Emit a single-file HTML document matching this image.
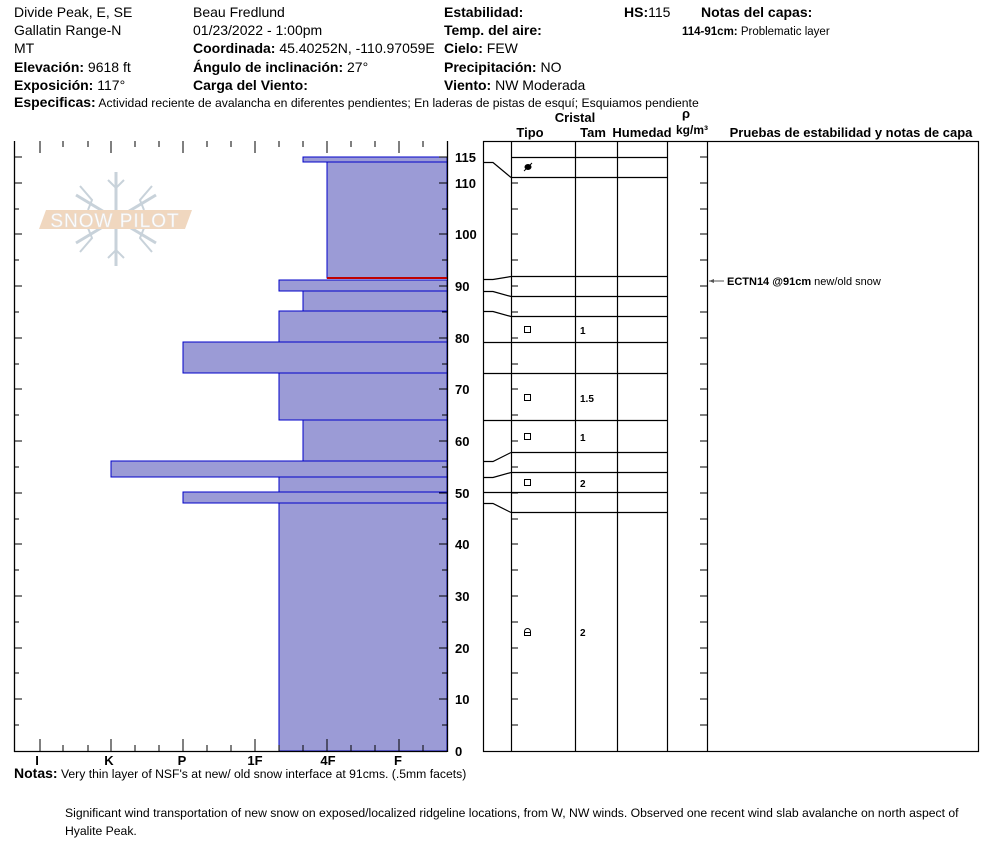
<!DOCTYPE html>
<html><head><meta charset="utf-8"><style>
body{margin:0;background:#fff;}
svg{display:block;font-family:"Liberation Sans",Arial,sans-serif;}
.b{font-weight:bold}
</style></head><body>
<svg width="994" height="859" viewBox="0 0 994 859" xmlns="http://www.w3.org/2000/svg">
<g font-size="14" fill="#000">
<text x="14" y="17">Divide Peak, E, SE</text>
<text x="14" y="35">Gallatin Range-N</text>
<text x="14" y="53">MT</text>
<text x="14" y="72"><tspan class="b">Elevación:</tspan> 9618 ft</text>
<text x="14" y="90"><tspan class="b">Exposición:</tspan> 117°</text>
<text x="193" y="17">Beau  Fredlund</text>
<text x="193" y="35">01/23/2022 - 1:00pm</text>
<text x="193" y="53"><tspan class="b">Coordinada:</tspan> 45.40252N, -110.97059E</text>
<text x="193" y="72"><tspan class="b">Ángulo de inclinación:</tspan> 27°</text>
<text x="193" y="90" class="b">Carga del Viento:</text>
<text x="444" y="17" class="b">Estabilidad:</text>
<text x="444" y="35" class="b">Temp. del aire:</text>
<text x="444" y="53"><tspan class="b">Cielo:</tspan> FEW</text>
<text x="444" y="72"><tspan class="b">Precipitación:</tspan> NO</text>
<text x="444" y="90"><tspan class="b">Viento:</tspan>  NW Moderada</text>
<text x="624" y="17"><tspan class="b">HS:</tspan>115</text>
<text x="701" y="17" class="b">Notas del capas:</text>
<text x="682" y="35" font-size="11.5"><tspan class="b">114-91cm:</tspan> Problematic layer</text>
<text x="14" y="107"><tspan class="b">Especificas:</tspan><tspan font-size="12.2"> Actividad reciente de avalancha en diferentes pendientes;  En laderas de pistas de esquí; Esquiamos pendiente</tspan></text>
</g>
<!-- logo -->
<g stroke="#c3ced6" stroke-width="3" fill="none" opacity="0.9">
<line x1="116" y1="172" x2="116" y2="266"/>
<line x1="76" y1="195" x2="156" y2="243"/>
<line x1="76" y1="243" x2="156" y2="195"/>
<path d="M108 180l8 8 8-8M108 258l8-8 8 8M80 186l12 14-4 10M152 186l-12 14 4 10M80 252l12-14-4-10M152 252l-12-14 4-10" stroke-width="2"/>
</g>
<polygon points="46,210 192,210 185,229 39,229" fill="#f0d7bf"/>
<text x="115" y="227" font-size="19" fill="#fff" text-anchor="middle" letter-spacing="1" stroke="#e7e7e7" stroke-width="0.5">SNOW PILOT</text>
<!-- bars -->
<g fill="#9b9bd6" stroke="#0000c8" stroke-width="1">
<rect x="303" y="157" width="144" height="5"/>
<rect x="327" y="162" width="120" height="116"/>
<rect x="279" y="280" width="168" height="11"/>
<rect x="303" y="291" width="144" height="20"/>
<rect x="279" y="311" width="168" height="31"/>
<rect x="183" y="342" width="264" height="31"/>
<rect x="279" y="373" width="168" height="47"/>
<rect x="303" y="420" width="144" height="41"/>
<rect x="111" y="461" width="336" height="16"/>
<rect x="279" y="477" width="168" height="15"/>
<rect x="183" y="492" width="264" height="11"/>
<rect x="279" y="503" width="168" height="248"/>
</g>
<line x1="327" y1="278" x2="447" y2="278" stroke="#c00000" stroke-width="2"/>
<!-- left axes -->
<g stroke="#000" stroke-width="1.3">
<line x1="14.5" y1="141" x2="14.5" y2="752"/>
<line x1="14" y1="751.5" x2="447" y2="751.5"/>
<line x1="447.5" y1="141" x2="447.5" y2="752"/>
</g>
<g stroke="#000" stroke-width="1">
<path d="M40 141v12M111 141v12M183 141v12M255 141v12M327 141v12M399 141v12M63 141v6M88 141v6M135 141v6M159 141v6M207 141v6M231 141v6M279 141v6M303 141v6M351 141v6M375 141v6M423 141v6"/>
<path d="M40 751v-12M111 751v-12M183 751v-12M255 751v-12M327 751v-12M399 751v-12M63 751v-6M88 751v-6M135 751v-6M159 751v-6M207 751v-6M231 751v-6M279 751v-6M303 751v-6M351 751v-6M375 751v-6M423 751v-6"/>
<path d="M14 157h8M14 183h8M14 234h8M14 286h8M14 338h8M14 389h8M14 441h8M14 493h8M14 544h8M14 596h8M14 648h8M14 699h8M14 209h5M14 260h5M14 312h5M14 364h5M14 415h5M14 467h5M14 519h5M14 570h5M14 622h5M14 673h5M14 725h5"/>
<path d="M447 157h-8M447 183h-8M447 234h-8M447 286h-8M447 338h-8M447 389h-8M447 441h-8M447 493h-8M447 544h-8M447 596h-8M447 648h-8M447 699h-8M447 209h-5M447 260h-5M447 312h-5M447 364h-5M447 415h-5M447 467h-5M447 519h-5M447 570h-5M447 622h-5M447 673h-5M447 725h-5"/>
</g>
<g font-size="13" font-weight="bold" text-anchor="middle">
<text x="37" y="765">I</text><text x="109" y="765">K</text><text x="182" y="765">P</text><text x="255" y="765">1F</text><text x="328" y="765">4F</text><text x="398" y="765">F</text>
</g>
<g font-size="13" font-weight="bold">
<text x="455" y="162">115</text><text x="455" y="188">110</text><text x="455" y="239">100</text>
<text x="455" y="291">90</text><text x="455" y="343">80</text><text x="455" y="394">70</text><text x="455" y="446">60</text>
<text x="455" y="498">50</text><text x="455" y="549">40</text><text x="455" y="601">30</text><text x="455" y="653">20</text>
<text x="455" y="704">10</text><text x="455" y="756">0</text>
</g>
<!-- right table -->
<g font-size="13" font-weight="bold" text-anchor="middle">
<text x="575" y="122">Cristal</text>
<text x="530" y="137">Tipo</text><text x="593" y="137">Tam</text><text x="642" y="137">Humedad</text>
<text x="686" y="118">ρ</text><text x="692" y="134" font-size="12">kg/m³</text>
<text x="851" y="137">Pruebas de estabilidad y notas de capa</text>
</g>
<g stroke="#000" stroke-width="1.2" fill="none">
<rect x="483.5" y="141.5" width="495" height="610"/>
<path d="M511.5 141v610M575.5 141v610M617.5 141v610M667.5 141v610M707.5 141v610"/>
<path d="M511 157.5h156M511 177.5h156M511 276.5h156M511 296.5h156M511 316.5h156M511 342.5h156M511 373.5h156M511 420.5h156M511 452.5h156M511 472.5h156M511 492.5h156M511 512.5h156"/>
<path d="M483 162.5h10l18 15M483 279.5h10l18-3M483 291.5h10l18 5M483 311.5h10l18 5M483 342.5h28M483 373.5h28M483 420.5h28M483 461.5h10l18-9M483 477.5h10l18-5M483 492.5h28M483 503.5h10l18 9"/>
</g>
<g stroke="#000" stroke-width="1">
<path d="M511 183h7M511 209h7M511 234h7M511 260h7M511 286h7M511 312h7M511 338h7M511 364h7M511 389h7M511 415h7M511 441h7M511 467h7M511 493h7M511 519h7M511 544h7M511 570h7M511 596h7M511 622h7M511 648h7M511 673h7M511 699h7M511 725h7"/>
<path d="M707 157h-7M707 183h-7M707 209h-7M707 234h-7M707 260h-7M707 286h-7M707 312h-7M707 338h-7M707 364h-7M707 389h-7M707 415h-7M707 441h-7M707 467h-7M707 493h-7M707 519h-7M707 544h-7M707 570h-7M707 596h-7M707 622h-7M707 648h-7M707 673h-7M707 699h-7M707 725h-7"/>
</g>
<ellipse cx="528" cy="167" rx="3.5" ry="3" fill="#000"/>
<line x1="524" y1="171" x2="532" y2="163" stroke="#000"/>
<g fill="none" stroke="#000" stroke-width="1">
<rect x="524.5" y="326.5" width="6" height="6"/>
<rect x="524.5" y="394.5" width="6" height="6"/>
<rect x="524.5" y="433.5" width="6" height="6"/>
<rect x="524.5" y="479.5" width="6" height="6"/>
<path d="M524.5 635.5v-4a3 3 0 0 1 6 0v4zM524.5 632.5h6"/>
</g>
<g font-size="10" font-weight="bold">
<text x="580" y="334">1</text><text x="580" y="402">1.5</text><text x="580" y="441">1</text><text x="580" y="487">2</text><text x="580" y="636">2</text>
</g>
<line x1="709" y1="281" x2="724" y2="281" stroke="#555"/>
<polygon points="709,281 714,279 714,283" fill="#555"/>
<text x="727" y="285" font-size="11"><tspan font-weight="bold">ECTN14 @91cm</tspan>  new/old snow</text>
<!-- notes -->
<text x="14" y="778" font-size="14"><tspan class="b">Notas:</tspan><tspan font-size="12.2"> Very thin layer of NSF's at new/ old snow interface at 91cms.  (.5mm facets)</tspan></text>
<text x="65" y="817" font-size="12.2">Significant wind transportation of new snow on exposed/localized ridgeline locations, from W, NW winds.  Observed one recent wind slab avalanche on north aspect of</text>
<text x="65" y="835" font-size="12.2">Hyalite Peak.</text>
</svg>
</body></html>
